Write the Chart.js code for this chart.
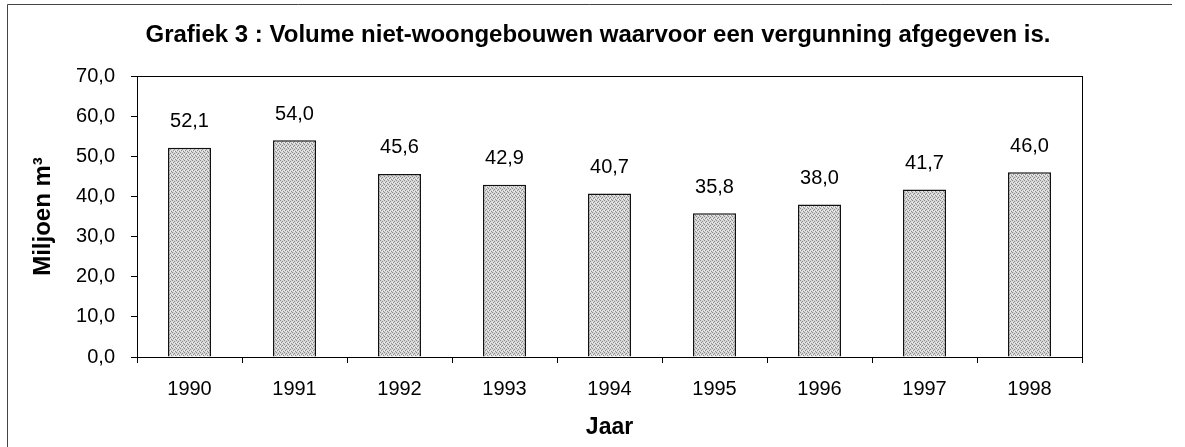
<!DOCTYPE html>
<html>
<head>
<meta charset="utf-8">
<script src="https://cdn.jsdelivr.net/npm/chart.js@4"></script>
<style>
  html, body { margin: 0; padding: 0; background: #fff; }
  #wrap { width: 1185px; height: 447px; }
</style>
</head>
<body>
<div id="wrap"><canvas id="grafiek" width="1185" height="447"></canvas></div>
<script>
// ---- Data ----
const jaren = ["1990", "1991", "1992", "1993", "1994", "1995", "1996", "1997", "1998"];
const volume = [52.1, 54.0, 45.6, 42.9, 40.7, 35.8, 38.0, 41.7, 46.0];
const yTicks = [0, 10, 20, 30, 40, 50, 60, 70];

const titel = "Grafiek 3 : Volume niet-woongebouwen waarvoor een vergunning afgegeven is.";
const fontFam = "'Liberation Sans', Arial, sans-serif";

const komma = v => v.toFixed(1).replace(".", ",");

// gespikkeld grijs patroon zoals de scan
function maakPatroon() {
  const c = document.createElement("canvas");
  c.width = 4; c.height = 4;
  const g = c.getContext("2d");
  g.fillStyle = "#d6d6d6";
  g.fillRect(0, 0, 4, 4);
  g.fillStyle = "#8c8c8c";
  g.fillRect(0, 0, 1, 1);
  g.fillRect(2, 1, 1, 1);
  g.fillRect(1, 2, 1, 1);
  g.fillRect(3, 3, 1, 1);
  g.fillStyle = "#f2f2f2";
  g.fillRect(2, 3, 1, 1);
  g.fillRect(0, 2, 1, 1);
  return g.createPattern(c, "repeat");
}

// titel bovenaan (gecentreerd op de hele figuur, niet op het plotgebied)
const titelPlugin = {
  id: "titelPlugin",
  afterDraw(chart) {
    const ctx = chart.ctx;
    ctx.save();
    ctx.font = "bold 24px " + fontFam;
    ctx.fillStyle = "#000";
    ctx.textAlign = "center";
    ctx.textBaseline = "middle";
    ctx.fillText(titel, 598, 35);
    ctx.restore();
  }
};

// waarden boven de staven
const waardeLabels = {
  id: "waardeLabels",
  afterDatasetsDraw(chart) {
    const ctx = chart.ctx;
    const meta = chart.getDatasetMeta(0);
    ctx.save();
    ctx.font = "20px " + fontFam;
    ctx.fillStyle = "#000";
    ctx.textAlign = "center";
    ctx.textBaseline = "middle";
    meta.data.forEach((bar, i) => {
      ctx.fillText(komma(volume[i]), bar.x, bar.y - 26);
    });
    ctx.restore();
  }
};

// kader rond plotgebied en rond de figuur
const kaders = {
  id: "kaders",
  afterDraw(chart) {
    const { ctx, chartArea } = chart;
    ctx.save();
    ctx.strokeStyle = "#000";
    ctx.lineWidth = 1;
    ctx.strokeRect(chartArea.left + 0.5, chartArea.top + 0.5,
      chartArea.right - chartArea.left, chartArea.bottom - chartArea.top);
    ctx.strokeStyle = "#444";
    ctx.beginPath();
    ctx.moveTo(7.5, 447);
    ctx.lineTo(7.5, 4.5);
    ctx.lineTo(1172, 4.5);
    ctx.stroke();
    ctx.restore();
  }
};

const ctx = document.getElementById("grafiek").getContext("2d");
new Chart(ctx, {
  type: "bar",
  data: {
    labels: jaren,
    datasets: [{
      data: volume,
      backgroundColor: maakPatroon(),
      borderColor: "#111",
      borderWidth: 1.5,
      barPercentage: 0.41,
      categoryPercentage: 1.0
    }]
  },
  options: {
    responsive: false,
    animation: false,
    layout: { padding: { left: 0, right: 103, top: 76, bottom: 0 } },
    plugins: {
      legend: { display: false },
      tooltip: { enabled: false },
      title: { display: false }
    },
    scales: {
      x: {
        grid: { display: true, drawOnChartArea: false, tickLength: 6, color: "#000", offset: true },
        border: { color: "#000", width: 1 },
        ticks: { color: "#000", font: { family: fontFam, size: 20 }, padding: 14, maxRotation: 0 },
        title: {
          display: true, text: "Jaar", color: "#000",
          font: { family: fontFam, size: 23, weight: "bold" },
          padding: { top: 0, bottom: 6 }
        },
        afterFit(scale) { scale.height = 90; }
      },
      y: {
        min: 0,
        max: 70,
        afterBuildTicks(scale) { scale.ticks = yTicks.map(v => ({ value: v })); },
        grid: { display: true, drawOnChartArea: false, tickLength: 6, color: "#000" },
        border: { color: "#000", width: 1 },
        ticks: { color: "#000", font: { family: fontFam, size: 20 }, padding: 16,
          callback: v => komma(v) },
        title: {
          display: true, text: "Miljoen m³", color: "#000",
          font: { family: fontFam, size: 24, weight: "bold" },
          padding: { top: 29, bottom: 0 }
        },
        afterFit(scale) { scale.width = 137; }
      }
    }
  },
  plugins: [waardeLabels, titelPlugin, kaders]
});
</script>
</body>
</html>
